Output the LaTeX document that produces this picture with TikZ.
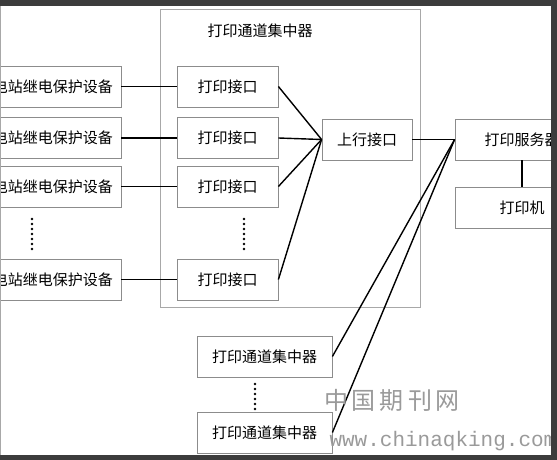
\documentclass[tikz,border=0pt]{standalone}
\usepackage{fontspec}
\newfontfamily\cjk{Noto Sans CJK SC}
\newfontfamily\urlfont{Liberation Mono}
\usetikzlibrary{calc}
\definecolor{boxgray}{HTML}{8C8C8C}
\definecolor{hubgray}{HTML}{A8A8A8}
\definecolor{stripgray}{HTML}{3C3C3C}
\definecolor{markgray}{HTML}{9A9A9A}

\tikzset{
  box/.style={draw=boxgray, line width=0.8pt, minimum height=41pt, inner sep=0pt,
    font=\cjk\fontsize{15pt}{18pt}\selectfont},
  link/.style={black, line width=1.4pt},
  dots/.style={black, line width=2.6pt, dash pattern=on 0pt off 5pt, line cap=round}
}

\begin{document}
\begin{tikzpicture}[x=1pt, y=-1pt]

  \useasboundingbox (0,0) rectangle (557,460);
  \clip (0,0) rectangle (557,460);
  \fill[white] (0,0) rectangle (557,460);

  % Concentrator frame and its title
  \node[draw=hubgray, line width=0.8pt, minimum width=260pt, minimum height=298pt] (hub) at (290,158) {};
  \node[font=\cjk\fontsize{15pt}{18pt}\selectfont] (hubtitle) at (260,31) {打印通道集中器};

  % Protection devices and print ports (one row each)
  \foreach \i/\y in {1/86.5, 2/138, 3/186.5, 4/279.5} {
    \node[box, minimum width=136pt] (dev\i) at (53,\y) {电站继电保护设备};
    \node[box, minimum width=101pt] (port\i) at (227.5,\y) {打印接口};
    \draw[link] (dev\i) -- (port\i);
  }

  % Uplink port, print server, printer
  \node[box, minimum width=90pt] (uplink) at (367,139.5) {上行接口};
  \node[box, minimum width=134pt] (server) at (522,139.5) {打印服务器};
  \node[box, minimum width=134pt] (printer) at (522,207.5) {打印机};

  % Further concentrators
  \node[box, minimum width=135pt] (conc1) at (264.5,356.5) {打印通道集中器};
  \node[box, minimum width=135pt] (conc2) at (264.5,432.5) {打印通道集中器};

  % Connectors
  \foreach \i in {1,...,4}
    \draw[link] (port\i.east) -- (uplink.west);
  \draw[link] (uplink) -- (server);
  \draw[link] (server) -- (printer);
  \draw[link] (conc1.east) -- (server.west);
  \draw[link] (conc2.east) -- (server.west);

  % Ellipsis dots
  \draw[dots] (32,219) -- (32,251);
  \draw[dots] (244,219) -- (244,251);
  \draw[dots] (255,384) -- (255,412);

  % Watermark
  \node[font=\cjk\fontsize{24pt}{28pt}\selectfont, text=markgray] (mark) at (392,400) {中\,国\,期\,刊\,网};
  \node[font=\urlfont\fontsize{21pt}{24pt}\selectfont, text=markgray, anchor=west] (url) at (326,441) {www.chinaqking.com};

  % Screenshot border
  \draw[hubgray, line width=1pt] (0.5,0) -- (0.5,460);
  \fill[stripgray] (0,0) rectangle (557,6);
  \fill[stripgray] (551,0) rectangle (557,460);
  \fill[stripgray] (0,455) rectangle (557,460);

\end{tikzpicture}
\end{document}
